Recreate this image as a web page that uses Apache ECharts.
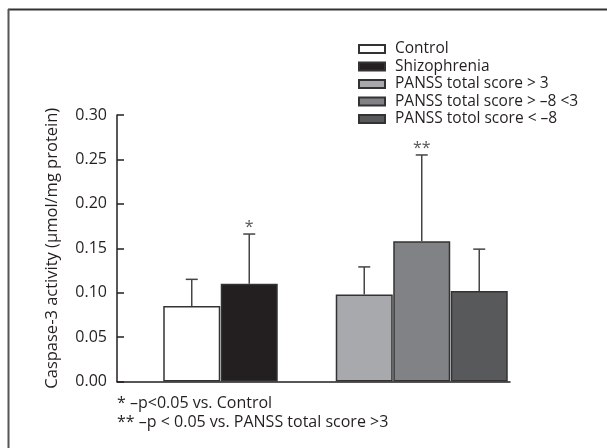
<!DOCTYPE html>
<html>
<head>
<meta charset="utf-8">
<script src="https://cdn.jsdelivr.net/npm/echarts@6/dist/echarts.min.js"></script>
<style>
  html, body { margin: 0; padding: 0; background: #fff; }
  #chart { width: 607px; height: 448px; }
</style>
</head>
<body>
<div id="chart"></div>
<script>
// ---- data ----
const categories = ['Control', 'Shizophrenia', 'PANSS total score > 3', 'PANSS total score > –8 <3', 'PANSS totol score < –8'];
const slots = [1.3, 2.3, 4.3, 5.3, 6.3];            // bar positions along the x scale (bar-width units)
const means = [0.085, 0.110, 0.098, 0.158, 0.102];
const errors = [0.030, 0.056, 0.031, 0.097, 0.047];
const marks = ['', '*', '', '**', ''];
const colors = ['#ffffff', '#231f20', '#a7a9ac', '#808285', '#58595b'];
const yMin = 0, yMax = 0.30, yStep = 0.05;
const xMax = 6.835;
const footnotes = ['* –p<0.05 vs. Control', '** –p < 0.05 vs. PANSS total score >3'];
const yName = 'Caspase-3 activity (µmol/mg protein)';

const FONT = '"Open Sans"';
const TXT = '#231f20';

const chart = echarts.init(document.getElementById('chart'), null, { renderer: 'canvas' });

const barSeries = categories.map((name, i) => ({
  name: name,
  type: 'bar',
  barWidth: 57,
  barGap: '-100%',
  itemStyle: { color: colors[i], borderColor: '#333', borderWidth: 1.5 },
  data: [[slots[i], means[i]]],
  z: 2
}));

const errData = categories.map((n, i) => [slots[i], means[i], errors[i], marks[i]]);

const errSeries = {
  type: 'custom',
  data: errData,
  z: 3,
  silent: true,
  renderItem: function (params, api) {
    const x = api.value(0), m = api.value(1), e = api.value(2);
    const mark = errData[params.dataIndex][3];
    const p0 = api.coord([x, m]);
    const p1 = api.coord([x, m + e]);
    const cap = 6;
    const children = [
      { type: 'line', shape: { x1: p0[0], y1: p0[1], x2: p1[0], y2: p1[1] }, style: { stroke: '#444', lineWidth: 1.5 } },
      { type: 'line', shape: { x1: p1[0] - cap, y1: p1[1], x2: p1[0] + cap, y2: p1[1] }, style: { stroke: '#444', lineWidth: 1.5 } }
    ];
    if (mark) {
      children.push({
        type: 'text',
        style: { text: mark, x: p1[0], y: p1[1] + 1, align: 'center', verticalAlign: 'bottom', fill: '#555', font: '16px ' + FONT }
      });
    }
    return { type: 'group', children: children };
  }
};

chart.setOption({
  animation: false,
  backgroundColor: '#fff',
  textStyle: { fontFamily: FONT, color: TXT },
  grid: { left: 117, right: 97, top: 115, bottom: 66.5, containLabel: false },
  legend: {
    data: categories,
    orient: 'vertical',
    left: 353,
    top: 36,
    itemWidth: 26,
    itemHeight: 8,
    itemGap: 1.5,
    icon: 'rect',
    selectedMode: false,
    textStyle: { fontFamily: FONT, fontSize: 15.5, color: TXT, lineHeight: 15.5, padding: [0, 0, 0, 5] }
  },
  xAxis: {
    type: 'value',
    min: 0,
    max: xMax,
    axisLine: { show: true, lineStyle: { color: TXT, width: 1.5 } },
    axisTick: { show: false },
    axisLabel: { show: false },
    splitLine: { show: false }
  },
  yAxis: {
    type: 'value',
    min: yMin,
    max: yMax,
    interval: yStep,
    name: yName,
    nameLocation: 'middle',
    nameGap: 56,
    nameTextStyle: { fontFamily: FONT, fontSize: 16.5, color: TXT },
    axisLine: { show: true, lineStyle: { color: TXT, width: 1.5 } },
    axisTick: { show: true, inside: true, length: 7, lineStyle: { color: TXT, width: 1.5 } },
    axisLabel: { fontFamily: FONT, fontSize: 16, color: TXT, margin: 10, formatter: v => v.toFixed(2) },
    splitLine: { show: false }
  },
  graphic: [
    { type: 'line', shape: { x1: 8, y1: 9.5, x2: 607, y2: 9.5 }, style: { stroke: '#333', lineWidth: 2 } },
    { type: 'line', shape: { x1: 8.5, y1: 9, x2: 8.5, y2: 448 }, style: { stroke: '#555', lineWidth: 2 } },
    { type: 'text', left: 117, top: 395.5, style: { text: footnotes[0], font: '16px ' + FONT, fill: TXT } },
    { type: 'text', left: 117, top: 414, style: { text: footnotes[1], font: '16px ' + FONT, fill: TXT } }
  ],
  series: barSeries.concat([errSeries])
});
</script>
</body>
</html>
